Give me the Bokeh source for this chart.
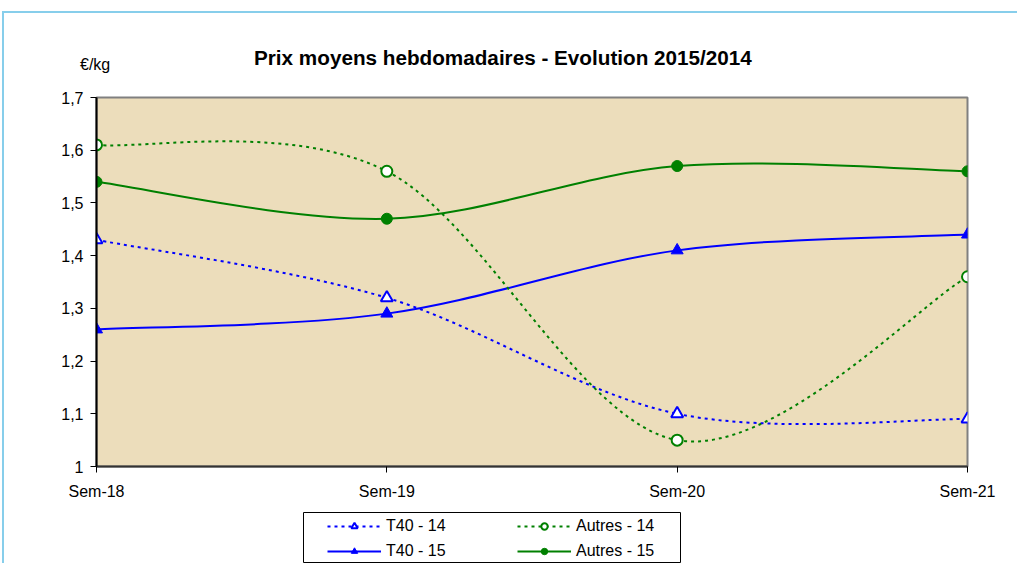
from bokeh.plotting import figure
from bokeh.models import (Range1d, FixedTicker, CustomJSTickFormatter, Legend, LegendItem,
                          ColumnDataSource, Div, Spacer)
from bokeh.layouts import column, row
from bokeh.embed import file_html
from bokeh.resources import INLINE

# ---- data ----
weeks = ["Sem-18", "Sem-19", "Sem-20", "Sem-21"]
t40_14 = [1.43, 1.32, 1.10, 1.09]
autres_14 = [1.61, 1.56, 1.05, 1.36]
t40_15 = [1.26, 1.29, 1.41, 1.44]
autres_15 = [1.54, 1.47, 1.57, 1.56]

title_text = "Prix moyens hebdomadaires - Evolution 2015/2014"
unit_text = "€/kg"

BLUE = "#0000FF"
GREEN = "#008000"
BEIGE = "#ECDDBB"
FRAME_BLUE = "#87CEEB"
FONT = "Liberation Sans"

xs = list(range(len(weeks)))


def smooth_segments(x, y):
    """Bezier control points (Catmull-Rom style, like Excel's smoothed line)."""
    n = len(x)
    d = dict(x0=[], y0=[], x1=[], y1=[], cx0=[], cy0=[], cx1=[], cy1=[])
    for i in range(n - 1):
        im1 = max(i - 1, 0)
        ip2 = min(i + 2, n - 1)
        d["x0"].append(x[i]); d["y0"].append(y[i])
        d["x1"].append(x[i + 1]); d["y1"].append(y[i + 1])
        d["cx0"].append(x[i] + (x[i + 1] - x[im1]) / 6.0)
        d["cy0"].append(y[i] + (y[i + 1] - y[im1]) / 6.0)
        d["cx1"].append(x[i + 1] - (x[ip2] - x[i]) / 6.0)
        d["cy1"].append(y[i + 1] - (y[ip2] - y[i]) / 6.0)
    return ColumnDataSource(d)


TOP_H = 80
header = Div(width=1017, height=TOP_H, text=(
    '<div style="position:relative;width:1017px;height:%dpx;font-family:\'%s\';color:black;">'
    '<span style="position:absolute;left:254px;top:48px;font-size:20.7px;line-height:20.7px;'
    'font-weight:bold;white-space:nowrap;">%s</span>'
    '<span style="position:absolute;left:80px;top:57px;font-size:16px;line-height:16px;'
    'white-space:nowrap;">%s</span></div>') % (TOP_H, FONT, title_text, unit_text),
    styles={"margin": "0", "padding": "0"})

MAIN_H = 512 - TOP_H
p = figure(width=1017, height=MAIN_H, x_range=Range1d(0, 3), y_range=Range1d(1, 1.7),
           output_backend="svg", toolbar_location=None, title=None,
           min_border_left=96, min_border_right=50, min_border_top=97 - TOP_H,
           min_border_bottom=512 - 466,
           background_fill_color=BEIGE, border_fill_alpha=0,
           outline_line_color="#808080", outline_line_width=2)

p.xgrid.visible = False
p.ygrid.visible = False

# axes
p.xaxis.ticker = FixedTicker(ticks=xs)
p.xaxis.major_label_overrides = {i: w for i, w in enumerate(weeks)}
p.yaxis.ticker = FixedTicker(ticks=[1.0, 1.1, 1.2, 1.3, 1.4, 1.5, 1.6, 1.7])
p.yaxis.formatter = CustomJSTickFormatter(
    code="return (Math.round(tick*10)/10).toString().replace('.', ',');")
for ax in (p.xaxis[0], p.yaxis[0]):
    ax.axis_line_color = "black"
    ax.axis_line_width = 2
    ax.major_tick_line_color = "black"
    ax.major_tick_in = 0
    ax.major_tick_out = 6
    ax.minor_tick_line_color = None
    ax.major_label_text_font = FONT
    ax.major_label_text_font_size = "16px"
    ax.major_label_text_color = "black"
p.xaxis.major_label_standoff = 10
p.yaxis.major_label_standoff = 7
p.xaxis.axis_line_color = "#333333"

series = [
    ("T40 - 14", t40_14, BLUE, "3 4", "triangle", "white"),
    ("T40 - 15", t40_15, BLUE, "solid", "triangle", BLUE),
    ("Autres - 14", autres_14, GREEN, "3 4", "circle", "white"),
    ("Autres - 15", autres_15, GREEN, "solid", "circle", GREEN),
]

# legend box: a small figure of its own, outlined in black; its ranges keep the
# swatch renderers' data out of view so that only the legend entries show
leg = figure(width=378, height=51, x_range=Range1d(-20, -10), y_range=Range1d(-20, -10),
             output_backend="svg", toolbar_location=None, title=None,
             x_axis_type=None, y_axis_type=None,
             min_border_left=0, min_border_right=0, min_border_top=0, min_border_bottom=0,
             background_fill_color="white", border_fill_alpha=0,
             outline_line_color="black", outline_line_width=1)
leg.xgrid.visible = False
leg.ygrid.visible = False

items = []
for name, vals, col, dash, marker, fill in series:
    src = smooth_segments(xs, vals)
    p.bezier(x0="x0", y0="y0", x1="x1", y1="y1", cx0="cx0", cy0="cy0", cx1="cx1", cy1="cy1",
             source=src, line_color=col, line_width=2, line_dash=dash)
    size = 12 if marker == "triangle" else 11
    lw = 2 if fill == "white" else 1
    p.scatter(xs, vals, marker=marker, size=size, line_color=col, line_width=lw, fill_color=fill)
    # legend swatches (same styles, drawn outside the legend figure's ranges)
    lb = leg.line(xs, vals, line_color=col, line_width=2, line_dash=dash)
    ls = leg.scatter(xs, vals, marker=marker, size=size, line_color=col, line_width=lw,
                     fill_color=fill)
    items.append(LegendItem(label=name, renderers=[lb, ls]))

lg = Legend(items=items, location=(24, 3), orientation="vertical", ncols=2,
            padding=0, margin=0, spacing=7,
            glyph_width=54, glyph_height=16, label_standoff=5, label_width=124,
            label_text_font=FONT, label_text_font_size="16px", label_text_color="black",
            border_line_alpha=0, background_fill_alpha=0)
leg.add_layout(lg, "center")

bg = ("linear-gradient(%s,%s) 2px 11px / 3000px 2px no-repeat, "
      "linear-gradient(%s,%s) 2px 11px / 2px 3000px no-repeat, white") % ((FRAME_BLUE,) * 4)
layout = column(header, p, row(Spacer(width=303, height=51), leg, spacing=0),
                spacing=0, styles={"background": bg})

open("out.html", "w").write(file_html(layout, INLINE))
